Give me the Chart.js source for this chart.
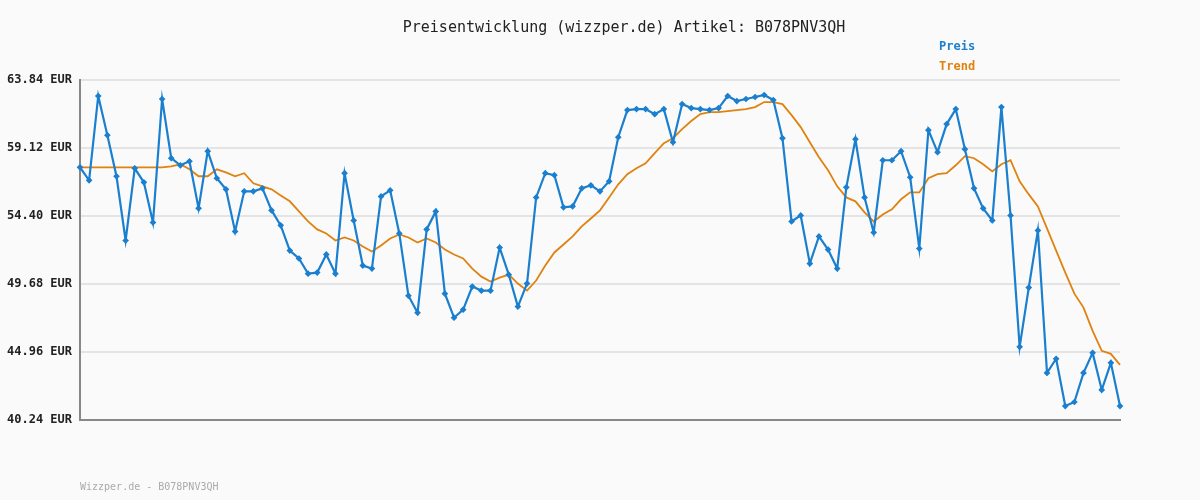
<!DOCTYPE html>
<html><head><meta charset="utf-8">
<script src="https://cdn.jsdelivr.net/npm/chart.js@4/dist/chart.umd.min.js"></script>
<style>html,body{margin:0;padding:0;background:#fafafa}#w{width:1200px;height:500px}</style>
</head><body><div id="w"><canvas id="c"></canvas></div>
<script>
const preis = [57.78,56.88,62.73,60.01,57.16,52.70,57.71,56.74,53.95,62.52,
58.41,57.92,58.20,54.93,58.90,57.02,56.25,53.33,56.11,56.11,
56.32,54.79,53.75,52.00,51.45,50.40,50.47,51.73,50.40,57.37,
54.09,50.96,50.75,55.76,56.18,53.19,48.87,47.69,53.47,54.72,
49.01,47.34,47.90,49.50,49.22,49.22,52.21,50.33,48.11,49.71,
55.69,57.37,57.23,55.00,55.07,56.32,56.53,56.11,56.81,59.87,
61.75,61.82,61.82,61.47,61.82,59.52,62.17,61.89,61.82,61.75,
61.89,62.73,62.38,62.52,62.66,62.80,62.45,59.80,54.02,54.44,
51.10,52.98,52.07,50.75,56.39,59.73,55.69,53.26,58.27,58.27,
58.90,57.09,52.14,60.36,58.83,60.78,61.82,59.04,56.32,54.93,
54.09,61.96,54.44,45.32,49.43,53.40,43.51,44.49,41.21,41.49,
43.51,44.90,42.33,44.21,41.21];
const trend = [57.78,57.78,57.78,57.78,57.78,57.78,57.78,57.78,57.78,57.78,
57.85,57.99,57.64,57.16,57.16,57.64,57.43,57.16,57.37,56.67,
56.46,56.25,55.83,55.42,54.72,54.02,53.47,53.19,52.70,52.91,
52.70,52.28,51.94,52.35,52.84,53.12,52.91,52.56,52.84,52.56,
52.07,51.73,51.45,50.75,50.19,49.85,50.12,50.33,49.71,49.22,
49.92,50.96,51.87,52.42,52.98,53.68,54.23,54.79,55.69,56.60,
57.30,57.71,58.06,58.76,59.45,59.80,60.43,60.99,61.47,61.61,
61.61,61.68,61.75,61.82,61.96,62.31,62.31,62.17,61.40,60.57,
59.52,58.48,57.57,56.46,55.69,55.42,54.65,54.02,54.51,54.86,
55.56,56.04,56.04,57.02,57.30,57.37,57.92,58.55,58.41,57.99,
57.50,57.99,58.27,56.81,55.90,55.07,53.54,52.00,50.47,49.01,
48.04,46.43,45.04,44.83,44.07];
const labels = preis.map((_, i) => String(i + 1));
const yTicks = [40.24, 44.96, 49.68, 54.40, 59.12, 63.84];
const blue = '#1a7fcf', orange = '#e0820f';
const mono = '"DejaVu Sans Mono", monospace';

const deco = {
  id: 'deco',
  beforeDraw(c) {
    const x = c.ctx; x.save(); x.fillStyle = '#fafafa'; x.fillRect(0, 0, c.width, c.height); x.restore();
  },
  afterDraw(c) {
    const x = c.ctx; x.save();
    x.textBaseline = 'middle';
    x.font = '15px ' + mono; x.fillStyle = '#222'; x.textAlign = 'center';
    x.fillText('Preisentwicklung (wizzper.de) Artikel: B078PNV3QH', 624, 28);
    x.font = 'bold 12px ' + mono; x.textAlign = 'left';
    x.fillStyle = blue; x.fillText('Preis', 939, 47);
    x.fillStyle = orange; x.fillText('Trend', 939, 67);
    x.font = '10px ' + mono; x.fillStyle = '#aaa';
    x.fillText('Wizzper.de - B078PNV3QH', 80, 487);
    x.restore();
  }
};

new Chart(document.getElementById('c'), {
  type: 'line',
  data: { labels, datasets: [
    { label: 'Trend', data: trend, borderColor: orange, borderWidth: 1.8, pointRadius: 0, tension: 0, order: 2 },
    { label: 'Preis', data: preis, borderColor: blue, backgroundColor: blue, borderWidth: 2.2, pointRadius: 1.8, pointStyle: 'rectRot', tension: 0, order: 1 }
  ]},
  options: {
    responsive: true, maintainAspectRatio: false, animation: false,
    layout: { padding: { top: 80, right: 80, bottom: 80, left: 0 } },
    plugins: { legend: { display: false }, tooltip: { enabled: false } },
    scales: {
      x: { offset: false, ticks: { display: false }, grid: { display: false, drawTicks: false }, border: { color: '#888', width: 2 } },
      y: {
        min: 40.24, max: 63.84,
        afterFit(s) { s.width = 80; },
        afterBuildTicks(s) { s.ticks = yTicks.map(v => ({ value: v })); },
        ticks: { padding: 8, color: '#222', font: { family: mono, size: 12, weight: 'bold' }, callback: v => v.toFixed(2) + ' EUR' },
        grid: { color: '#e4e4e4', lineWidth: 2, drawTicks: false },
        border: { color: '#888', width: 2 }
      }
    }
  },
  plugins: [deco]
});
</script></body></html>
